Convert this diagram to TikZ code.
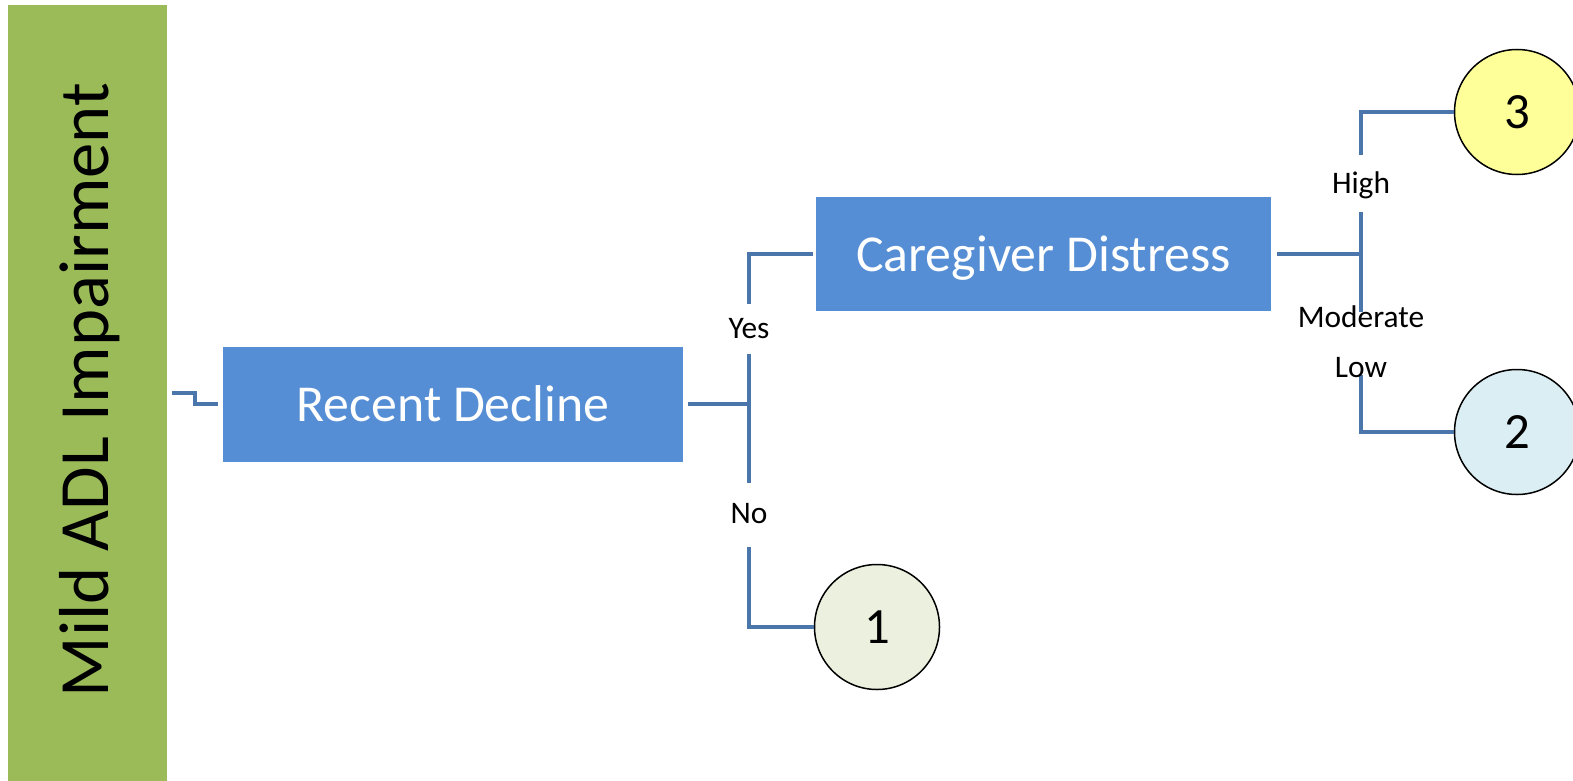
\documentclass[tikz,border=0pt]{standalone}
\usepackage{fontspec}
\setmainfont{Carlito}
\begin{document}
\begin{tikzpicture}[x=1bp,y=-1bp,
  conn/.style={draw=linkblue,line width=4.5bp},
  decision/.style={fill=boxblue,text=white,inner sep=0pt,text depth=0pt,
    font=\fontsize{52}{60}\selectfont},
  outcome/.style={circle,draw=black,line width=1.5bp,minimum size=125bp,inner sep=0pt,
    text depth=0pt,font=\fontsize{51}{60}\selectfont},
  branchlbl/.style={anchor=base,inner sep=0pt,font=\fontsize{31.5}{36}\selectfont}]
\definecolor{linkblue}{HTML}{4A76AB}
\definecolor{boxblue}{HTML}{558ED5}
\definecolor{bargreen}{HTML}{9BBB59}
\definecolor{lowfill}{RGB}{235,241,222}
\definecolor{highfill}{RGB}{255,255,153}
\definecolor{modfill}{RGB}{219,238,244}
\useasboundingbox (0,0) rectangle (1573,781);
% left category bar
\node[fill=bargreen,minimum width=159bp,minimum height=776bp,inner sep=0pt,anchor=north west] (bar) at (8,5) {};
\node[rotate=90,anchor=base,inner sep=0pt,font=\fontsize{71}{80}\selectfont] (title) at (108,390) {Mild ADL Impairment};
% decision boxes
\node[decision,minimum width=460bp,minimum height=115bp] (rd) at (453,404) {Recent Decline};
\node[decision,minimum width=455bp,minimum height=114bp] (cd) at (1043.5,254) {Caregiver Distress};
% outcomes
\node[outcome,fill=lowfill] (o1) at (877,627) {1};
\node[outcome,fill=highfill] (o3) at (1517,112) {3};
\node[outcome,fill=modfill] (o2) at (1517,432) {2};
% entry stub
\coordinate (s0) at (172,393);
\draw[conn] (s0) -- (195,393) |- ([xshift=-5bp]rd.west);
% Recent Decline branches
\coordinate (rdJ) at (749,404);
\coordinate (rdT) at (749,354);
\coordinate (rdB) at (749,483);
\coordinate (yesE) at (749,304);
\coordinate (noS) at (749,547);
\draw[conn] ([xshift=5bp]rd.east) -- (rdJ);
\draw[conn] (rdT) -- (rdB);
\draw[conn] (yesE) |- ([xshift=-3bp]cd.west);
\draw[conn] (noS) |- (o1.west);
\node[branchlbl] (yes) at (749,338) {Yes};
\node[branchlbl] (no) at (749,523) {No};
% Caregiver Distress branches
\coordinate (cdJ) at (1361,254);
\coordinate (cdT) at (1361,212);
\coordinate (cdB) at (1361,312);
\coordinate (highE) at (1361,155);
\coordinate (lowS) at (1361,375);
\draw[conn] ([xshift=6bp]cd.east) -- (cdJ);
\draw[conn] (cdT) -- (cdB);
\draw[conn] (highE) |- (o3.west);
\draw[conn] (lowS) |- (o2.west);
\node[branchlbl] (high) at (1361,193) {High};
\node[branchlbl] (mod) at (1361,327) {Moderate};
\node[branchlbl] (low) at (1361,377) {Low};
\end{tikzpicture}
\end{document}
